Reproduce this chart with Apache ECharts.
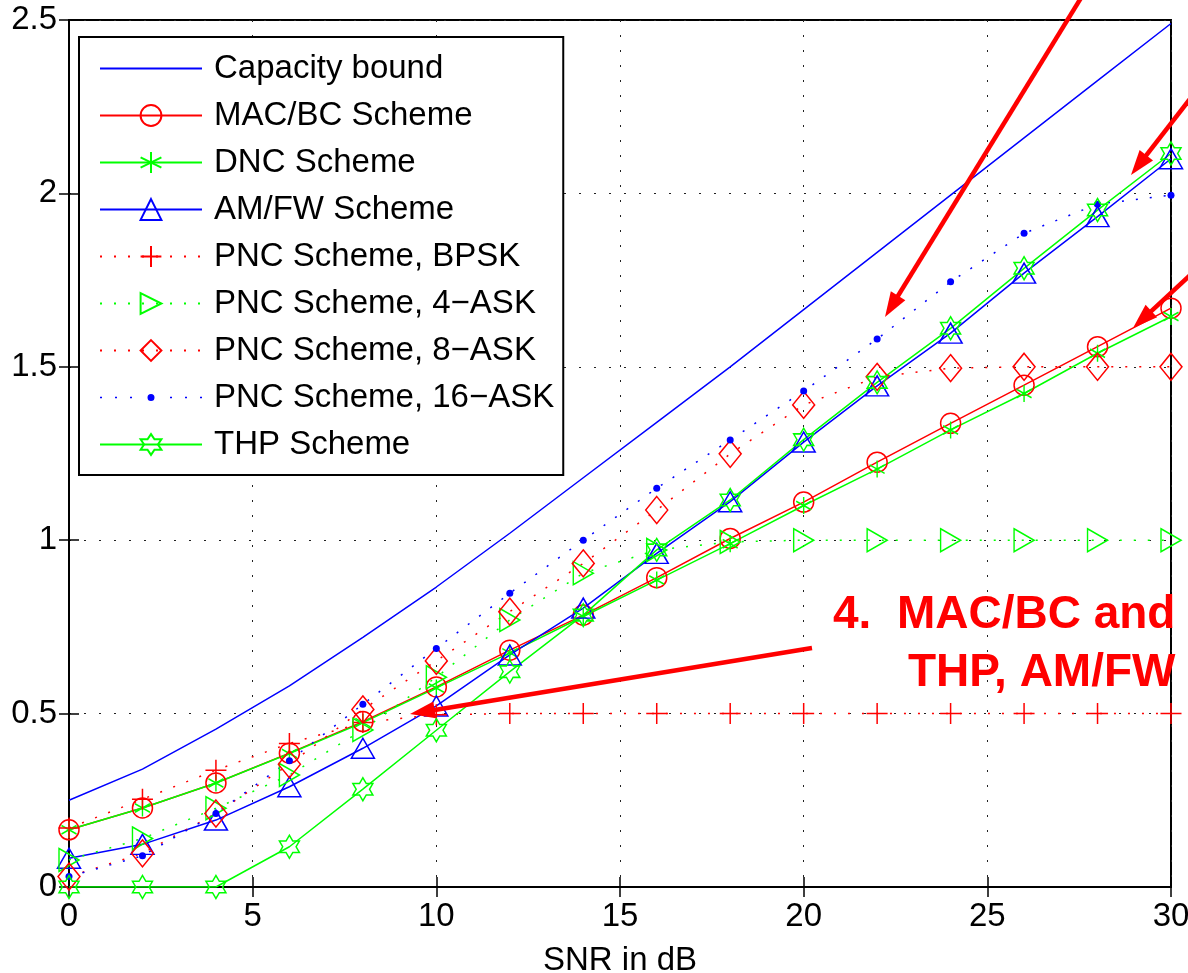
<!DOCTYPE html>
<html>
<head>
<meta charset="utf-8">
<title>PNC schemes vs SNR</title>
<script src="https://cdn.jsdelivr.net/npm/echarts@6/dist/echarts.min.js"></script>
<style>
html, body { margin: 0; padding: 0; background: #fff; }
#chart { width: 1188px; height: 973px; }
</style>
</head>
<body>
<div id="chart"></div>
<script>
// SNR in dB, one point every 2 dB
var snr = [0, 2, 4, 6, 8, 10, 12, 14, 16, 18, 20, 22, 24, 26, 28, 30];

var capacity = [0.25, 0.34, 0.455, 0.58, 0.72, 0.865, 1.02, 1.18, 1.34, 1.5, 1.665, 1.83, 1.995, 2.16, 2.325, 2.49];
var macbc    = [0.165, 0.228, 0.30, 0.386, 0.477, 0.577, 0.683, 0.784, 0.892, 1.005, 1.11, 1.225, 1.337, 1.447, 1.558, 1.669];
var dnc      = [0.165, 0.228, 0.30, 0.385, 0.474, 0.574, 0.675, 0.78, 0.885, 0.99, 1.10, 1.205, 1.318, 1.423, 1.539, 1.645];
var amfw     = [0.083, 0.123, 0.193, 0.289, 0.40, 0.522, 0.669, 0.804, 0.962, 1.111, 1.283, 1.445, 1.597, 1.77, 1.933, 2.10];
var bpsk     = [0.17, 0.253, 0.337, 0.414, 0.474, 0.497, 0.5, 0.5, 0.5, 0.5, 0.5, 0.5, 0.5, 0.5, 0.5, 0.5];
var ask4     = [0.078, 0.14, 0.227, 0.323, 0.453, 0.605, 0.77, 0.905, 0.972, 0.995, 1, 1, 1, 1, 1, 1];
var ask8     = [0.03, 0.097, 0.212, 0.354, 0.512, 0.652, 0.794, 0.933, 1.087, 1.249, 1.39, 1.471, 1.496, 1.5, 1.5, 1.5];
var ask16    = [0.03, 0.09, 0.212, 0.364, 0.527, 0.688, 0.847, 1.0, 1.15, 1.289, 1.43, 1.58, 1.745, 1.885, 1.969, 1.995];
var thp      = [0, 0, 0, 0.116, 0.282, 0.452, 0.621, 0.784, 0.972, 1.116, 1.29, 1.455, 1.611, 1.784, 1.952, 2.115];

var names = ['Capacity bound', 'MAC/BC Scheme', 'DNC Scheme', 'AM/FW Scheme',
    'PNC Scheme, BPSK', 'PNC Scheme, 4\u2212ASK', 'PNC Scheme, 8\u2212ASK',
    'PNC Scheme, 16\u2212ASK', 'THP Scheme'];

var myChart = echarts.init(document.getElementById('chart'));

var BLUE = '#0000ff', RED = '#ff0000', GREEN = '#00ff00';
var FONT = '"Liberation Sans", Arial, Helvetica, sans-serif';

var ASTERISK = 'path://M0,-1L0,1M-0.87,-0.5L0.87,0.5M-0.87,0.5L0.87,-0.5';
var PLUS = 'path://M-1,0L1,0M0,-1L0,1';
var RTRI = 'path://M-1,-1L1,0L-1,1Z';
var HEXAGRAM = 'path://M0,-1L0.289,-0.5L0.866,-0.5L0.577,0L0.866,0.5L0.289,0.5L0,1L-0.289,0.5L-0.866,0.5L-0.577,0L-0.866,-0.5L-0.289,-0.5Z';

// legend icon for the 16-ASK entry: dotted line with a small dot, box 102 x 26
var DOT_ICON = 'path://M0,-13M102,13' +
    'M0,-0.8h2v1.6h-2Z M15,-0.8h2v1.6h-2Z M30,-0.8h2v1.6h-2Z' +
    'M70,-0.8h2v1.6h-2Z M85,-0.8h2v1.6h-2Z M100,-0.8h2v1.6h-2Z' +
    'M54.5,0A3.5,3.5 0 1 1 47.5,0A3.5,3.5 0 1 1 54.5,0Z';

function pairs(ys) {
    return snr.map(function (x, i) { return [x, ys[i]]; });
}

function makeSeries(name, ys, color, dotted, symbol, size, filled) {
    return {
        name: name,
        type: 'line',
        data: pairs(ys),
        symbol: symbol,
        symbolSize: size,
        showSymbol: symbol !== 'none',
        lineStyle: { color: color, width: 1.5, type: dotted ? [2, 12] : 'solid' },
        itemStyle: {
            color: filled ? color : 'none',
            borderColor: color,
            borderWidth: filled ? 0 : 1.5
        },
        emphasis: { disabled: true },
        z: 3
    };
}

// red annotation arrows (pixel positions of the drawing)
function arrow(x1, y1, x2, y2) {
    var dx = x2 - x1, dy = y2 - y1;
    var len = Math.sqrt(dx * dx + dy * dy);
    var ux = dx / len, uy = dy / len;
    var hl = 25, hw = 8.5;
    var bx = x2 - hl * ux, by = y2 - hl * uy;
    return [
        {
            type: 'line', z: 50, silent: true,
            shape: { x1: x1, y1: y1, x2: bx + 3 * ux, y2: by + 3 * uy },
            style: { stroke: RED, lineWidth: 4.5 }
        },
        {
            type: 'polygon', z: 50, silent: true,
            shape: { points: [[x2, y2], [bx - hw * uy, by + hw * ux], [bx + hw * uy, by - hw * ux]] },
            style: { fill: RED }
        }
    ];
}

var graphics = [].concat(
    arrow(1092, -20, 885, 317),
    arrow(1200, 86, 1131, 175),
    arrow(1200, 266, 1133, 328),
    arrow(812, 648, 410, 714),
    [
        {
            type: 'text', z: 50, left: 833, top: 592, silent: true,
            style: { text: '4.  MAC/BC and', fill: RED, font: 'bold 46px ' + FONT }
        },
        {
            type: 'text', z: 50, left: 908, top: 650, silent: true,
            style: { text: 'THP, AM/FW', fill: RED, font: 'bold 46px ' + FONT }
        }
    ]
);

var tickFont = { fontSize: 33, color: '#000', fontFamily: FONT };

var legendData = names.map(function (n, i) {
    if (i === 0) {
        return { name: n, itemStyle: { color: 'none', borderColor: 'none', borderWidth: 0 } };
    }
    if (i === 7) {
        return { name: n, icon: DOT_ICON };
    }
    return n;
});

option = {
    animation: false,
    backgroundColor: '#fff',
    grid: {
        left: 69, right: 17, top: 20, bottom: 86,
        containLabel: false,
        outerBoundsMode: 'none',
        show: true, borderColor: '#000', borderWidth: 2, backgroundColor: 'transparent'
    },
    legend: {
        orient: 'vertical',
        left: 79,
        top: 37,
        padding: [15, 9, 14, 20],
        itemWidth: 102,
        itemHeight: 26,
        itemGap: 14,
        backgroundColor: '#fff',
        borderColor: '#000',
        borderWidth: 2,
        selectedMode: false,
        textStyle: { fontSize: 33, color: '#000', fontFamily: FONT, padding: [0, 0, 0, 7] },
        data: legendData
    },
    xAxis: [
        {
            type: 'value', min: 0, max: 30, interval: 5,
            name: 'SNR in dB', nameLocation: 'middle', nameGap: 57,
            nameTextStyle: tickFont,
            axisLine: { show: true, lineStyle: { color: '#000', width: 2 } },
            axisTick: { show: true, inside: true, length: 10, lineStyle: { color: '#000', width: 1.5 } },
            axisLabel: { show: true, margin: 13, fontSize: 33, color: '#000', fontFamily: FONT },
            splitLine: { show: true, lineStyle: { color: '#222', width: 1, type: [2, 13] } }
        },
        {
            type: 'value', min: 0, max: 30, interval: 5, position: 'top',
            axisLine: { show: true, lineStyle: { color: '#000', width: 2 } },
            axisTick: { show: true, inside: true, length: 10, lineStyle: { color: '#000', width: 1.5 } },
            axisLabel: { show: false },
            splitLine: { show: false }
        }
    ],
    yAxis: [
        {
            type: 'value', min: 0, max: 2.5, interval: 0.5,
            axisLine: { show: true, lineStyle: { color: '#000', width: 2 } },
            axisTick: { show: true, inside: true, length: 10, lineStyle: { color: '#000', width: 1.5 } },
            axisLabel: { show: true, margin: 12, fontSize: 33, color: '#000', fontFamily: FONT },
            splitLine: { show: true, lineStyle: { color: '#222', width: 1, type: [2, 13] } }
        },
        {
            type: 'value', min: 0, max: 2.5, interval: 0.5, position: 'right',
            axisLine: { show: true, lineStyle: { color: '#000', width: 2 } },
            axisTick: { show: true, inside: true, length: 10, lineStyle: { color: '#000', width: 1.5 } },
            axisLabel: { show: false },
            splitLine: { show: false }
        }
    ],
    series: [
        makeSeries(names[0], capacity, BLUE, false, 'none', 0, false),
        makeSeries(names[1], macbc, RED, false, 'circle', 20, false),
        makeSeries(names[2], dnc, GREEN, false, ASTERISK, [15, 17], false),
        makeSeries(names[3], amfw, BLUE, false, 'triangle', [23, 20], false),
        makeSeries(names[4], bpsk, RED, true, PLUS, [21, 21], false),
        makeSeries(names[5], ask4, GREEN, true, RTRI, [20, 23], false),
        makeSeries(names[6], ask8, RED, true, 'diamond', [22, 27], false),
        makeSeries(names[7], ask16, BLUE, true, 'circle', 7, true),
        makeSeries(names[8], thp, GREEN, false, HEXAGRAM, [20, 23], false)
    ],
    graphic: graphics
};

myChart.setOption(option);
</script>
</body>
</html>
